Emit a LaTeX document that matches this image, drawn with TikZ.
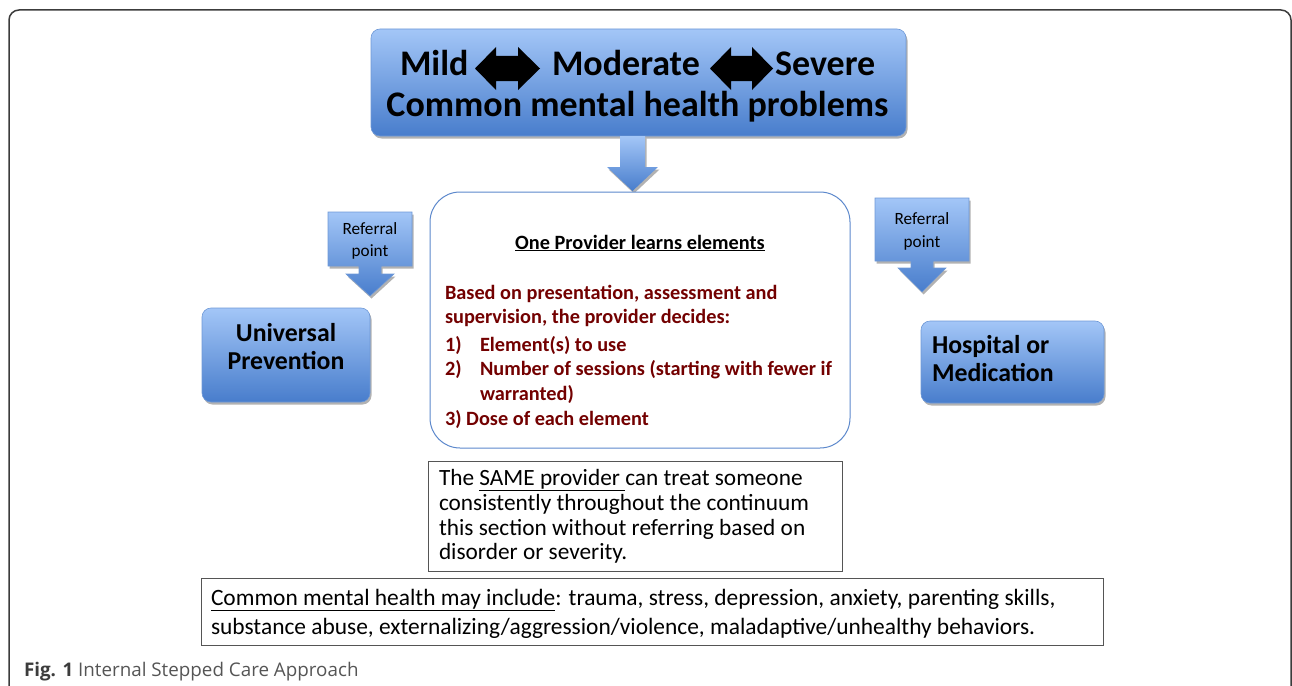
\documentclass[tikz,border=0pt]{standalone}
\usepackage{fontspec}
\setmainfont{Carlito}
\newfontfamily\capfont{Open Sans}
\usetikzlibrary{shadows}
\definecolor{bTop}{RGB}{163,198,247}
\definecolor{bBot}{RGB}{72,125,204}
\definecolor{bEdge}{RGB}{110,152,214}
\definecolor{coreEdge}{RGB}{92,136,204}
\definecolor{darkred}{RGB}{115,0,0}
\definecolor{frameGray}{RGB}{60,60,60}
\definecolor{boxGray}{RGB}{85,85,85}
\definecolor{capGray}{RGB}{85,85,85}
\newcommand\FS[1]{\fontsize{#1}{#1}\selectfont}
\tikzset{
  blueshade/.style={top color=bTop, bottom color=bBot, draw=bEdge, line width=0.6},
  shadowed/.style={drop shadow={shadow xshift=1.5pt, shadow yshift=-2.5pt, opacity=0.3, fill=black}},
  bluebox/.style={blueshade, shadowed, rounded corners=9, inner sep=0},
  plainbox/.style={draw=boxGray, line width=1, fill=white, inner sep=0},
  corebox/.style={draw=coreEdge, line width=1, fill=white, rounded corners=30, inner sep=0},
  txt/.style={inner sep=0, outer sep=0},
  redtxt/.style={txt, anchor=base west, text=darkred, font=\FS{20.3}\bfseries},
}
\begin{document}
\begin{tikzpicture}[x=1pt, y=-1pt]
\useasboundingbox (0,0) rectangle (1292,685);
% outer frame
\begin{scope}
\clip (0,0) rectangle (1292,685);
\draw[frameGray, line width=1.5, rounded corners=10] (9,720) -- (9,10) -- (1291,10) -- (1291,720);
\end{scope}

% top box
\node[bluebox, minimum width=535, minimum height=107] (top) at (638.5,82.5) {};
\node[txt, anchor=base west, font=\FS{36}\bfseries] (mild) at (400,75) {Mild};
\node[txt, anchor=base west, font=\FS{36}\bfseries] (moderate) at (552,75) {Moderate};
\node[txt, anchor=base west, font=\FS{36}\bfseries] (severe) at (775,75) {Severe};
\node[txt, anchor=base, font=\FS{36}\bfseries] (common) at (637.5,116) {Common mental health problems};
% double arrows
\fill[black] (475,68.5) -- (496,47) -- (496,56) -- (518,56) -- (518,47) -- (540,68.5)
  -- (518,90) -- (518,81) -- (496,81) -- (496,90) -- cycle;
\fill[black] (710,68.5) -- (731,47) -- (731,56) -- (752,56) -- (752,47) -- (773,68.5)
  -- (752,90) -- (752,81) -- (731,81) -- (731,90) -- cycle;

% down arrow from top box to core
\shade[blueshade, draw=none, shadowed] (620,136) -- (645,136) -- (645,167) -- (658,167)
  -- (632.5,191) -- (607,167) -- (620,167) -- cycle;

% core box
\node[corebox, minimum width=420, minimum height=256] (core) at (640,320) {};
\node[txt, anchor=base, font=\FS{20.3}\bfseries] (coretitle) at (640,249) {\underline{One Provider learns elements}};
\node[redtxt] (l1) at (445,299) {Based on presentation, assessment and};
\node[redtxt] (l2) at (445,323) {supervision, the provider decides:};
\node[redtxt] (n1) at (445,351) {1)};
\node[redtxt] (l3) at (480,351) {Element(s) to use};
\node[redtxt] (n2) at (445,375) {2)};
\node[redtxt] (l4) at (480,375) {Number of sessions (starting with fewer if};
\node[redtxt] (l5) at (480,400) {warranted)};
\node[redtxt] (l6) at (445,425) {3) Dose of each element};

% left referral callout
\shade[blueshade, shadowed] (328,212) -- (412,212) -- (412,266) -- (381,266) -- (381,274) -- (394,274)
  -- (370,296) -- (346,274) -- (359,274) -- (359,266) -- (328,266) -- cycle;
\node[txt, anchor=base, font=\FS{17.2}] (refL1) at (370,234) {Referral};
\node[txt, anchor=base, font=\FS{17.2}] (refL2) at (370,256) {point};

% right referral callout
\shade[blueshade, shadowed] (875,198) -- (969,198) -- (969,261) -- (933,261) -- (933,268) -- (946,268)
  -- (922,292) -- (898,268) -- (911,268) -- (911,261) -- (875,261) -- cycle;
\node[txt, anchor=base, font=\FS{17.2}] (refR1) at (922,224) {Referral};
\node[txt, anchor=base, font=\FS{17.2}] (refR2) at (922,247) {point};

% Universal prevention
\node[bluebox, minimum width=168, minimum height=94] (univ) at (286,355) {};
\node[txt, anchor=base, font=\FS{25.8}\bfseries] (univ1) at (286,341) {Universal};
\node[txt, anchor=base, font=\FS{25.8}\bfseries] (univ2) at (286,369) {Prevention};

% Hospital
\node[bluebox, minimum width=183, minimum height=82] (hosp) at (1012.5,362) {};
\node[txt, anchor=base west, font=\FS{25.8}\bfseries] (hosp1) at (932,353) {Hospital or};
\node[txt, anchor=base west, font=\FS{25.8}\bfseries] (hosp2) at (932,381) {Medication};

% SAME provider box
\node[plainbox, minimum width=414, minimum height=110] (same) at (635,516) {};
\node[txt, anchor=base west, font=\FS{23.3}] (s1) at (439,485) {The \underline{SAME provider }can treat someone};
\node[txt, anchor=base west, font=\FS{23.3}] (s2) at (439,510) {consistently throughout the continuum};
\node[txt, anchor=base west, font=\FS{23.3}] (s3) at (439,535) {this section without referring based on};
\node[txt, anchor=base west, font=\FS{23.3}] (s4) at (439,559) {disorder or severity.};

% Common mental health box
\node[plainbox, minimum width=902, minimum height=67] (cmh) at (652,611.5) {};
\node[txt, anchor=base west, font=\FS{23.4}] (c1) at (211,605) {\underline{Common mental health may include}: trauma, stress, depression, anxiety, parenting skills,};
\node[txt, anchor=base west, font=\FS{23.4}] (c2) at (211,634) {substance abuse, externalizing/aggression/violence, maladaptive/unhealthy behaviors.};

% caption
\node[txt, anchor=base west, font=\capfont\FS{18.8}] (cap) at (24,676) {{\bfseries\color{frameGray}Fig. 1} {\color{capGray}Internal Stepped Care Approach}};
\end{tikzpicture}
\end{document}
